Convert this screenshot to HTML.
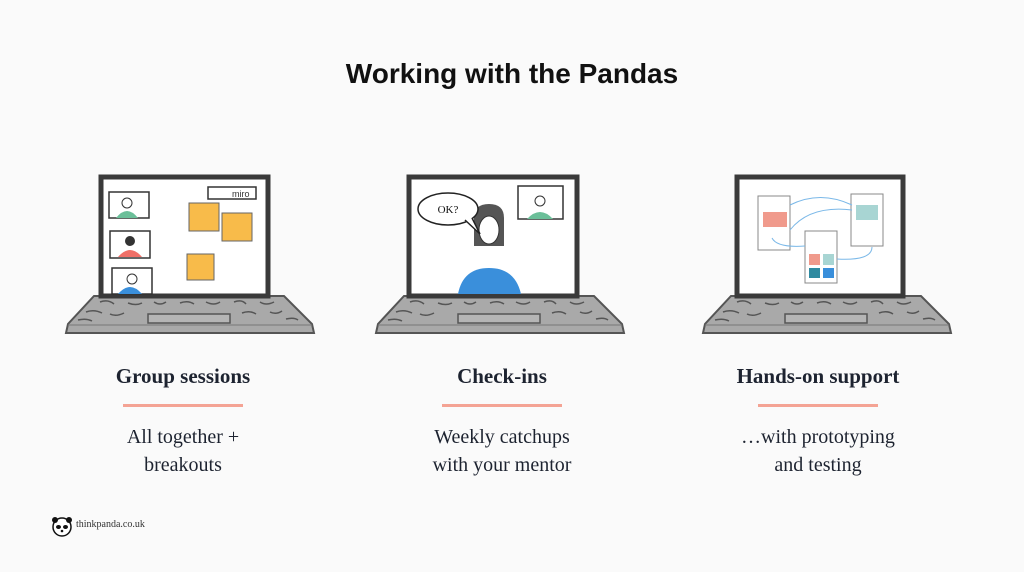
<!DOCTYPE html>
<html><head><meta charset="utf-8"><style>
html,body{margin:0;padding:0;background:#fafafa;}
body{width:1024px;height:572px;overflow:hidden;position:relative;font-family:"Liberation Serif",serif;}
.t{position:absolute;left:0;width:1024px;top:58px;text-align:center;font:bold 28px "Liberation Sans",sans-serif;color:#111;}
.col{position:absolute;width:260px;text-align:center;color:#1d2330;}
.h{font-weight:bold;font-size:21px;}
.b{font-size:20px;line-height:28px;}
.line{position:absolute;height:3px;background:#f4a394;width:120px;}
</style></head><body>
<div class="t">Working with the Pandas</div>
<svg width="1024" height="572" style="position:absolute;left:0;top:0">
<defs>
<g id="kb">
<polygon points="-96,0 94,0 122,28 124,37 -124,37 -122,28" fill="#a9a9a9" stroke="#555" stroke-width="2"/>
<line x1="-122" y1="29" x2="122" y2="29" stroke="#777" stroke-width="1"/>
<rect x="-42" y="18" width="82" height="9" fill="#b5b5b5" stroke="#555" stroke-width="1.5"/>
<path d="M-90,6 q8,-3 14,2 M-62,7 q8,3 14,0 M-36,6 q6,4 12,0 M-10,7 q8,-3 14,1 M16,6 q8,4 14,0 M44,6 q8,-3 12,2 M70,6 q6,4 14,0 M-104,16 q8,-3 16,1 M-80,18 q6,3 14,-1 M52,17 q8,-3 14,1 M80,16 q6,3 12,-1 M-112,24 q8,-2 14,1 M96,23 q8,-2 12,1" stroke="#555" stroke-width="1.5" fill="none"/>
</g>
</defs>
<!-- laptop 1 -->
<g>
<use href="#kb" transform="translate(190,296)"/>
<rect x="101" y="177" width="167" height="119" fill="#fff" stroke="#3a3a3a" stroke-width="5"/>
<rect x="109" y="192" width="40" height="26" fill="none" stroke="#333" stroke-width="1.5"/>
<circle cx="127" cy="203" r="5" fill="#fff" stroke="#333"/><path d="M116,218 q11,-14 22,0z" fill="#6bbf99"/>
<rect x="110" y="231" width="40" height="27" fill="none" stroke="#333" stroke-width="1.5"/>
<circle cx="130" cy="241" r="5" fill="#333"/><path d="M118,257 q12,-14 24,0z" fill="#f07068"/>
<rect x="112" y="268" width="40" height="26" fill="none" stroke="#333" stroke-width="1.5"/>
<circle cx="132" cy="279" r="5" fill="#fff" stroke="#333"/><path d="M118,294 q12,-14 24,0z" fill="#3a8fdb"/>
<rect x="208" y="187" width="48" height="12" fill="none" stroke="#333" stroke-width="1.5"/>
<text x="232" y="197" font-family="Liberation Sans" font-size="9" fill="#333">miro</text>
<rect x="189" y="203" width="30" height="28" fill="#f8bb4a" stroke="#666"/>
<rect x="222" y="213" width="30" height="28" fill="#f8bb4a" stroke="#666"/>
<rect x="187" y="254" width="27" height="26" fill="#f8bb4a" stroke="#666"/>
</g>
<!-- laptop 2 -->
<g>
<use href="#kb" transform="translate(500,296)"/>
<rect x="409" y="177" width="168" height="119" fill="#fff" stroke="#3a3a3a" stroke-width="5"/>
<rect x="518" y="186" width="45" height="33" fill="none" stroke="#333" stroke-width="1.5"/>
<circle cx="540" cy="201" r="5" fill="#fff" stroke="#333"/><path d="M527,219 q13,-14 26,0z" fill="#6bbf99"/>
<path d="M474,246 v-28 q0,-14 15,-14 q15,0 15,14 v28z" fill="#555"/>
<ellipse cx="489" cy="230" rx="10" ry="14" fill="#fff" stroke="#333"/>
<path d="M458,294 q5,-26 31,-26 q26,0 32,26z" fill="#3a8fdb"/>
<ellipse cx="448" cy="209" rx="30" ry="16" fill="#fff" stroke="#222" stroke-width="1.5"/>
<path d="M465,220 l15,14 l-8,-16" fill="#fff" stroke="#222" stroke-width="1.5"/>
<text x="448" y="213" text-anchor="middle" font-family="Liberation Serif" font-size="11" fill="#111">OK?</text>
</g>
<!-- laptop 3 -->
<g>
<use href="#kb" transform="translate(827,296)"/>
<rect x="737" y="177" width="166" height="119" fill="#fff" stroke="#3a3a3a" stroke-width="5"/>
<rect x="758" y="196" width="32" height="54" fill="#fff" stroke="#888"/>
<rect x="763" y="212" width="24" height="15" fill="#f09a8c"/>
<rect x="851" y="194" width="32" height="52" fill="#fff" stroke="#888"/>
<rect x="856" y="205" width="22" height="15" fill="#a8d5d3"/>
<rect x="805" y="231" width="32" height="52" fill="#fff" stroke="#888"/>
<rect x="809" y="254" width="11" height="11" fill="#f09a8c"/><rect x="823" y="254" width="11" height="11" fill="#a8d5d3"/>
<rect x="809" y="268" width="11" height="10" fill="#2f8aa0"/><rect x="823" y="268" width="11" height="10" fill="#3a8fdb"/>
<path d="M790,205 q30,-15 62,0 M790,230 q20,-25 62,-20 M772,238 q5,10 33,8 M837,259 q35,2 35,-12" stroke="#7ab8e8" fill="none"/>
</g>
</svg>
<div class="col h" style="left:53px;top:364px">Group sessions</div>
<div class="col h" style="left:372px;top:364px">Check-ins</div>
<div class="col h" style="left:688px;top:364px">Hands-on support</div>
<div class="line" style="left:123px;top:404px"></div>
<div class="line" style="left:442px;top:404px"></div>
<div class="line" style="left:758px;top:404px"></div>
<div class="col b" style="left:53px;top:423px">All together +<br>breakouts</div>
<div class="col b" style="left:372px;top:423px">Weekly catchups<br>with your mentor</div>
<div class="col b" style="left:688px;top:423px">…with prototyping<br>and testing</div>
<svg width="24" height="24" style="position:absolute;left:50px;top:515px"><circle cx="12" cy="12" r="9" fill="#fff" stroke="#111" stroke-width="1.5"/><circle cx="5" cy="5" r="3" fill="#111"/><circle cx="19" cy="5" r="3" fill="#111"/><ellipse cx="8.5" cy="12" rx="2.5" ry="2" fill="#111"/><ellipse cx="15.5" cy="12" rx="2.5" ry="2" fill="#111"/><circle cx="12" cy="16" r="1.3" fill="#111"/></svg>
<div style="position:absolute;left:76px;top:519px;font-size:10px;color:#333">thinkpanda.co.uk</div>
</body></html>
